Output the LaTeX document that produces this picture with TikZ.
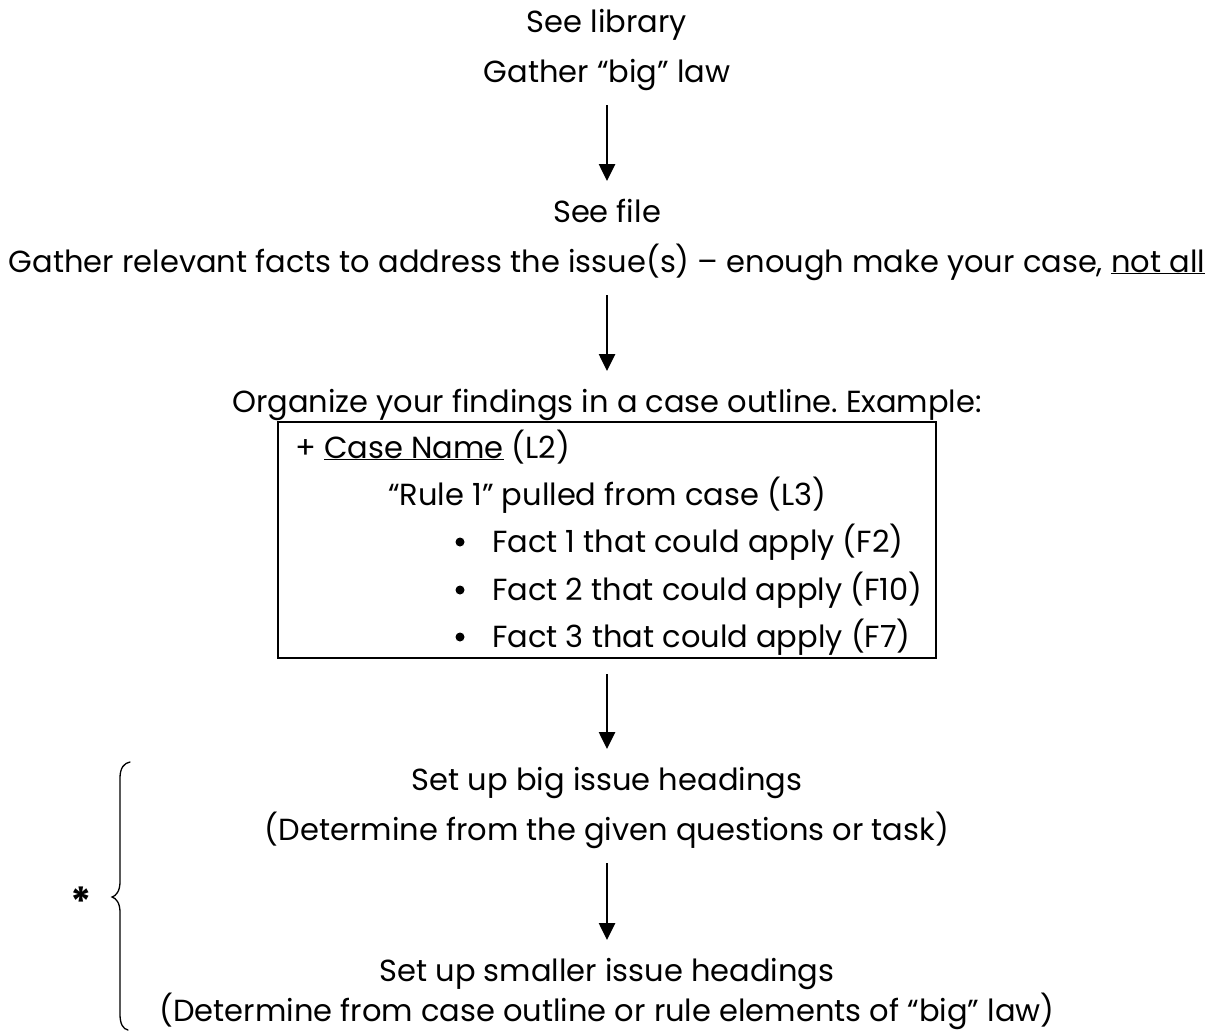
\documentclass[tikz,border=0pt]{standalone}
\usepackage{fontspec}
\setmainfont{Poppins}[Ligatures={NoCommon}]
\usetikzlibrary{arrows.meta}
\frenchspacing
\begin{document}
\begin{tikzpicture}[x=1pt,y=-1pt,
  txt/.style={anchor=base,inner sep=0pt,font=\fontsize{30.5}{36}\selectfont},
  ltxt/.style={txt,anchor=base west},
  arr/.style={line width=2.6pt,-{Triangle[length=17pt,width=16pt]}},
  boxstyle/.style={draw,line width=2pt,minimum width=658pt,minimum height=236pt,inner sep=0pt},
  dot/.style={circle,fill,inner sep=0pt,minimum size=9pt},
  bracestyle/.style={line width=1.3pt,line cap=round}
]
\useasboundingbox (0,0) rectangle (1213,1031);
\node[txt] (lib) at (607,32) {See library};
\node[txt] (law) at (607,82) {Gather “big” law};
\node[txt] (file) at (607,222) {See file};
\node[txt] (facts) at (607,272) {Gather relevant facts to address the issue(s) – enough make your case, \underline{not all}};
\node[txt] (org) at (607,412) {Organize your findings in a case outline. Example:};
\node[boxstyle] (box) at (607,540) {};
\node[ltxt] (case) at (295,458) {+ \underline{Case Name} (L2)};
\node[ltxt] (rule) at (388,505) {“Rule 1” pulled from case (L3)};
\node[dot] (b1) at (460,542) {};
\node[ltxt] (f1) at (492,552) {Fact 1 that could apply (F2)};
\node[dot] (b2) at (460,590) {};
\node[ltxt] (f2) at (492,600) {Fact 2 that could apply (F10)};
\node[dot] (b3) at (460,637) {};
\node[ltxt] (f3) at (492,647) {Fact 3 that could apply (F7)};
\node[txt] (big) at (607,790) {Set up big issue headings};
\node[txt] (det1) at (607,840) {(Determine from the given questions or task)};
\node[txt] (small) at (607,981) {Set up smaller issue headings};
\node[txt] (det2) at (607,1021) {(Determine from case outline or rule elements of “big” law)};
\node[txt,font=\bfseries\fontsize{40}{46}\selectfont] (star) at (81,916) {*};
\draw[arr] ([yshift=-23pt]law.base) -- ([yshift=41pt]file.base);
\draw[arr] ([yshift=-23pt]facts.base) -- ([yshift=41pt]org.base);
\draw[arr] ([yshift=-15pt]box.south) -- ([yshift=41pt]big.base);
\draw[arr] ([yshift=-23pt]det1.base) -- ([yshift=41pt]small.base);
\draw[bracestyle] (130,762) .. controls (124,763) and (120,768) .. (120,778) -- (120,882)
  .. controls (120,891) and (116,896) .. (112,897)
  .. controls (116,898) and (120,903) .. (120,912) -- (120,1014)
  .. controls (120,1024) and (123,1029) .. (128,1030);
\end{tikzpicture}
\end{document}
